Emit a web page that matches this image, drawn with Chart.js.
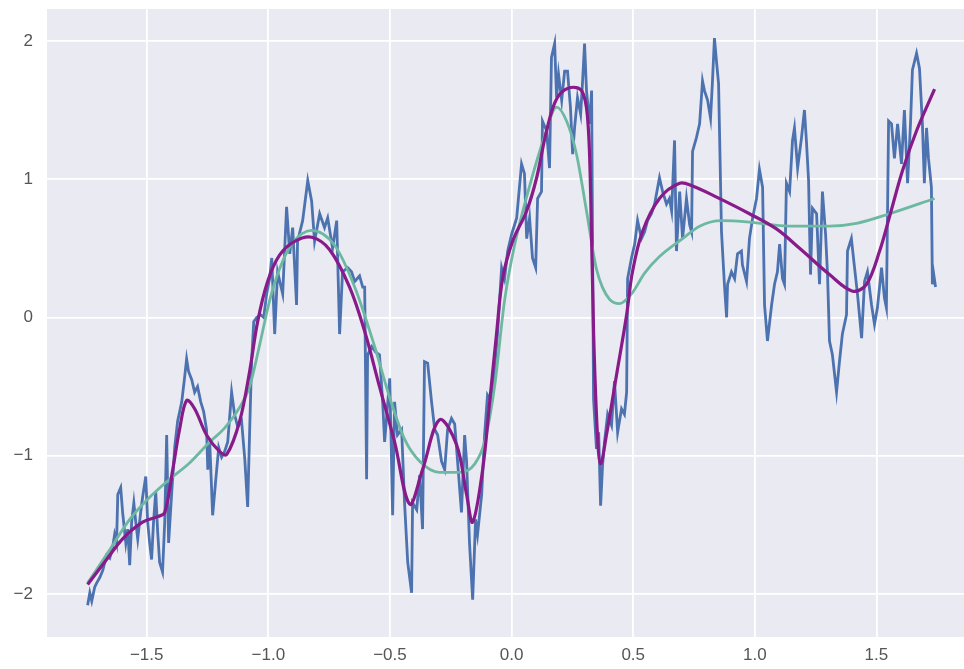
<!DOCTYPE html>
<html lang="en">

<head>
    <meta charset="UTF-8">
    <script src="https://cdn.jsdelivr.net/npm/chart.js"></script>
    <style>
        html, body { margin: 0; padding: 0; background: #ffffff; }
    </style>
</head>

<body>
    <canvas id="curves" width="964" height="669"></canvas>

    <script>
        // noisy series
        const blueX = [-1.743, -1.734, -1.726, -1.714, -1.706, -1.693, -1.681, -1.665, -1.652, -1.640, -1.632, -1.624, -1.619, -1.607, -1.599, -1.586, -1.578, -1.570, -1.562, -1.553, -1.545, -1.537, -1.525, -1.517, -1.504, -1.496, -1.488, -1.480, -1.472, -1.463, -1.455, -1.447, -1.435, -1.426, -1.418, -1.410, -1.397, -1.385, -1.373, -1.356, -1.344, -1.336, -1.328, -1.315, -1.303, -1.291, -1.278, -1.266, -1.254, -1.249, -1.241, -1.229, -1.217, -1.204, -1.192, -1.180, -1.167, -1.151, -1.139, -1.126, -1.110, -1.097, -1.085, -1.077, -1.069, -1.060, -1.048, -1.032, -1.019, -1.007, -0.995, -0.986, -0.974, -0.962, -0.941, -0.925, -0.912, -0.900, -0.884, -0.880, -0.859, -0.838, -0.822, -0.810, -0.789, -0.769, -0.756, -0.736, -0.719, -0.707, -0.695, -0.674, -0.658, -0.645, -0.625, -0.612, -0.604, -0.596, -0.592, -0.575, -0.559, -0.543, -0.530, -0.522, -0.501, -0.489, -0.481, -0.469, -0.452, -0.440, -0.427, -0.411, -0.407, -0.390, -0.378, -0.366, -0.358, -0.345, -0.329, -0.316, -0.304, -0.288, -0.275, -0.263, -0.247, -0.234, -0.222, -0.206, -0.193, -0.185, -0.173, -0.160, -0.148, -0.140, -0.123, -0.111, -0.099, -0.082, -0.070, -0.058, -0.041, -0.029, -0.016, 0.000, 0.021, 0.041, 0.053, 0.062, 0.074, 0.086, 0.099, 0.107, 0.123, 0.127, 0.144, 0.156, 0.164, 0.177, 0.185, 0.193, 0.206, 0.218, 0.230, 0.242, 0.251, 0.259, 0.271, 0.284, 0.292, 0.300, 0.308, 0.321, 0.329, 0.337, 0.349, 0.358, 0.366, 0.374, 0.382, 0.395, 0.411, 0.423, 0.436, 0.452, 0.464, 0.473, 0.477, 0.493, 0.506, 0.518, 0.534, 0.547, 0.559, 0.575, 0.588, 0.608, 0.621, 0.637, 0.649, 0.658, 0.670, 0.678, 0.691, 0.703, 0.719, 0.732, 0.740, 0.744, 0.760, 0.773, 0.785, 0.793, 0.806, 0.818, 0.826, 0.834, 0.843, 0.851, 0.863, 0.875, 0.884, 0.888, 0.904, 0.917, 0.929, 0.945, 0.949, 0.966, 0.978, 0.991, 1.007, 1.019, 1.032, 1.040, 1.052, 1.069, 1.081, 1.093, 1.102, 1.114, 1.122, 1.130, 1.143, 1.155, 1.163, 1.176, 1.192, 1.204, 1.212, 1.221, 1.229, 1.237, 1.254, 1.266, 1.278, 1.291, 1.299, 1.307, 1.319, 1.336, 1.348, 1.360, 1.377, 1.381, 1.397, 1.410, 1.422, 1.439, 1.451, 1.463, 1.480, 1.492, 1.504, 1.521, 1.533, 1.541, 1.550, 1.562, 1.574, 1.587, 1.603, 1.615, 1.628, 1.640, 1.648, 1.665, 1.677, 1.689, 1.697, 1.706, 1.714, 1.726, 1.730, 1.734, 1.743];
        const blueY = [-2.08, -1.99, -2.05, -1.95, -1.92, -1.88, -1.83, -1.72, -1.74, -1.66, -1.57, -1.63, -1.28, -1.23, -1.41, -1.63, -1.53, -1.79, -1.48, -1.34, -1.48, -1.60, -1.41, -1.30, -1.15, -1.48, -1.63, -1.75, -1.48, -1.26, -1.55, -1.77, -1.84, -1.48, -0.85, -1.63, -1.26, -0.94, -0.75, -0.61, -0.43, -0.30, -0.39, -0.45, -0.54, -0.50, -0.61, -0.68, -0.81, -1.10, -0.90, -1.43, -1.19, -0.94, -1.01, -0.97, -0.90, -0.54, -0.70, -0.79, -0.75, -1.02, -1.37, -0.83, -0.32, -0.03, 0.00, 0.02, 0.00, 0.17, 0.28, 0.43, -0.12, 0.33, 0.17, 0.80, 0.46, 0.65, 0.09, 0.55, 0.70, 0.99, 0.84, 0.55, 0.75, 0.65, 0.72, 0.50, 0.70, -0.12, 0.33, 0.36, 0.33, 0.26, 0.30, 0.22, 0.22, -1.17, -0.27, -0.21, -0.25, -0.27, -0.61, -0.90, -0.44, -1.43, -0.61, -0.85, -0.81, -1.34, -1.77, -1.99, -1.34, -1.39, -1.14, -1.53, -0.32, -0.33, -0.61, -0.81, -0.85, -1.04, -1.10, -0.81, -0.73, -0.77, -1.04, -1.41, -0.85, -1.04, -1.63, -2.04, -1.46, -1.57, -1.28, -0.85, -0.56, -0.61, -0.37, -0.12, 0.36, 0.28, 0.48, 0.60, 0.72, 1.11, 1.04, 0.57, 0.72, 0.43, 0.36, 0.86, 0.91, 1.42, 1.35, 1.08, 1.88, 1.98, 1.59, 1.76, 1.57, 1.78, 1.78, 1.52, 1.18, 1.37, 1.59, 1.47, 1.71, 1.98, 1.64, 1.40, 1.64, -0.59, -0.95, -0.83, -1.36, -1.07, -0.90, -0.70, -0.78, -0.46, -0.83, -0.66, -0.70, -0.54, 0.28, 0.43, 0.53, 0.70, 0.57, 0.62, 0.70, 0.75, 0.82, 1.01, 0.91, 0.82, 0.86, 0.77, 1.28, 0.48, 0.91, 0.57, 0.86, 0.67, 0.62, 1.20, 1.30, 1.40, 1.71, 1.64, 1.57, 1.44, 1.71, 2.02, 1.84, 1.69, 0.62, 0.24, 0.00, 0.24, 0.33, 0.28, 0.46, 0.48, 0.38, 0.26, 0.57, 0.72, 0.86, 1.07, 0.94, 0.09, -0.17, 0.09, 0.24, 0.33, 0.53, 0.28, 0.24, 0.97, 0.91, 1.28, 1.37, 1.08, 1.30, 1.50, 1.28, 0.99, 0.31, 0.79, 0.75, 0.24, 0.91, 0.60, 0.31, -0.17, -0.27, -0.54, -0.32, -0.12, 0.02, 0.48, 0.57, 0.36, 0.17, -0.15, 0.26, 0.33, 0.09, -0.05, 0.07, 0.36, 0.14, 0.07, 1.42, 1.40, 1.15, 1.40, 1.11, 1.50, 0.97, 1.40, 1.79, 1.91, 1.80, 1.40, 0.97, 1.37, 1.15, 0.94, 0.24, 0.33, 0.22];

        // smooth fit (teal)
        const tealX = [-1.743, -1.652, -1.570, -1.488, -1.406, -1.323, -1.241, -1.180, -1.118, -1.077, -1.036, -0.995, -0.954, -0.904, -0.822, -0.727, -0.645, -0.563, -0.501, -0.440, -0.378, -0.296, -0.214, -0.152, -0.111, -0.070, -0.029, 0.012, 0.074, 0.136, 0.185, 0.226, 0.267, 0.308, 0.349, 0.403, 0.444, 0.493, 0.547, 0.608, 0.703, 0.773, 0.863, 0.978, 1.143, 1.307, 1.418, 1.554, 1.739];
        const tealY = [-1.92, -1.68, -1.46, -1.30, -1.17, -1.05, -0.90, -0.80, -0.65, -0.50, -0.20, 0.12, 0.35, 0.53, 0.63, 0.52, 0.22, -0.21, -0.58, -0.88, -1.04, -1.12, -1.12, -1.06, -0.90, -0.50, 0.12, 0.52, 0.95, 1.31, 1.52, 1.42, 1.18, 0.77, 0.35, 0.13, 0.10, 0.17, 0.32, 0.44, 0.57, 0.66, 0.70, 0.69, 0.66, 0.66, 0.68, 0.75, 0.86];

        // flexible fit (purple)
        const purpleX = [-1.743, -1.665, -1.599, -1.517, -1.455, -1.426, -1.393, -1.365, -1.336, -1.303, -1.254, -1.200, -1.171, -1.118, -1.077, -1.044, -1.003, -0.954, -0.892, -0.822, -0.748, -0.666, -0.604, -0.543, -0.481, -0.419, -0.366, -0.296, -0.226, -0.185, -0.160, -0.119, -0.090, -0.062, -0.037, 0.004, 0.062, 0.103, 0.144, 0.185, 0.238, 0.288, 0.312, 0.325, 0.337, 0.353, 0.366, 0.390, 0.432, 0.473, 0.497, 0.538, 0.608, 0.691, 0.744, 0.843, 0.978, 1.089, 1.184, 1.307, 1.402, 1.459, 1.513, 1.554, 1.607, 1.665, 1.739];
        const purpleY = [-1.93, -1.75, -1.60, -1.48, -1.44, -1.41, -1.10, -0.81, -0.60, -0.66, -0.85, -0.97, -0.99, -0.75, -0.39, -0.03, 0.26, 0.45, 0.55, 0.58, 0.49, 0.22, -0.10, -0.50, -0.90, -1.35, -1.10, -0.74, -0.92, -1.28, -1.48, -1.10, -0.61, -0.12, 0.28, 0.55, 0.77, 1.01, 1.35, 1.58, 1.66, 1.64, 1.45, 0.90, -0.10, -0.85, -1.06, -0.85, -0.41, 0.02, 0.33, 0.62, 0.86, 0.97, 0.95, 0.87, 0.75, 0.64, 0.50, 0.31, 0.19, 0.24, 0.48, 0.73, 1.06, 1.35, 1.65];

        const xTicks = [-1.5, -1.0, -0.5, 0.0, 0.5, 1.0, 1.5];
        const xLabels = ['\u22121.5', '\u22121.0', '\u22120.5', '0.0', '0.5', '1.0', '1.5'];
        const yTicks = [-2, -1, 0, 1, 2];
        const yLabels = ['\u22122', '\u22121', '0', '1', '2'];

        function points(xs, ys) {
            return xs.map((x, i) => ({ x: x, y: ys[i] }));
        }

        const plotBackground = {
            id: 'plotBackground',
            beforeDraw(chart) {
                const { ctx, chartArea } = chart;
                ctx.save();
                ctx.fillStyle = '#EAEAF2';
                ctx.fillRect(chartArea.left, chartArea.top, chartArea.right - chartArea.left, chartArea.bottom - chartArea.top);
                ctx.restore();
            }
        };

        const tickFont = { family: 'Liberation Sans', size: 17 };

        new Chart(document.getElementById('curves'), {
            type: 'line',
            data: {
                datasets: [{
                    data: points(purpleX, purpleY),
                    borderColor: '#881B8A',
                    borderWidth: 3.2,
                    pointRadius: 0,
                    tension: 0.35,
                    order: 0
                }, {
                    data: points(tealX, tealY),
                    borderColor: '#6DB8A1',
                    borderWidth: 2.8,
                    pointRadius: 0,
                    cubicInterpolationMode: 'monotone',
                    order: 1
                }, {
                    data: points(blueX, blueY),
                    borderColor: '#4C72B0',
                    borderWidth: 2.8,
                    pointRadius: 0,
                    tension: 0,
                    order: 2
                }]
            },
            options: {
                responsive: false,
                animation: false,
                devicePixelRatio: 1,
                layout: { padding: { top: 9, right: 0, left: 0, bottom: 0 } },
                plugins: {
                    legend: { display: false },
                    tooltip: { enabled: false }
                },
                scales: {
                    x: {
                        type: 'linear',
                        min: -1.91,
                        max: 1.86,
                        border: { display: false },
                        grid: { color: '#ffffff', lineWidth: 1.8, drawTicks: false },
                        afterBuildTicks: (scale) => { scale.ticks = xTicks.map(v => ({ value: v })); },
                        afterFit: (scale) => {
                            scale.height = 32;
                            scale.paddingLeft = 0;
                            scale.paddingRight = 0;
                        },
                        ticks: {
                            color: '#555555',
                            font: tickFont,
                            padding: 8,
                            maxRotation: 0,
                            callback: (value) => xLabels[xTicks.indexOf(value)]
                        }
                    },
                    y: {
                        min: -2.31,
                        max: 2.23,
                        border: { display: false },
                        grid: { color: '#ffffff', lineWidth: 1.8, drawTicks: false },
                        afterBuildTicks: (scale) => { scale.ticks = yTicks.map(v => ({ value: v })); },
                        afterFit: (scale) => {
                            scale.width = 47;
                            scale.paddingTop = 0;
                            scale.paddingBottom = 0;
                        },
                        ticks: {
                            color: '#555555',
                            font: tickFont,
                            padding: 14,
                            callback: (value) => yLabels[yTicks.indexOf(value)]
                        }
                    }
                }
            },
            plugins: [plotBackground]
        });
    </script>

</body>

</html>
